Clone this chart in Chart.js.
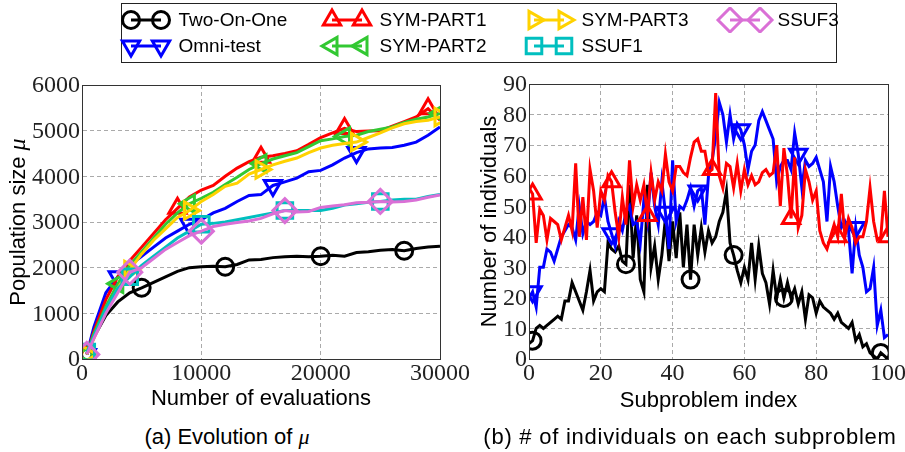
<!DOCTYPE html>
<html>
<head>
<meta charset="utf-8">
<script src="https://cdn.jsdelivr.net/npm/chart.js@4.4.1/dist/chart.umd.min.js"></script>
<style>
  html, body { margin: 0; padding: 0; background: #fff; }
  body { width: 905px; height: 452px; position: relative; overflow: hidden; font-family: "Liberation Sans", Arial, sans-serif; }
  #leftChart { position: absolute; left: 0; top: 70px; }
  #rightChart { position: absolute; left: 460px; top: 70px; }
  #legend { position: absolute; left: 121px; top: 3px; width: 714px; height: 58px; border: 1.5px solid #222; }
  .lg-item { position: absolute; height: 26px; }
  .lg-item canvas { position: absolute; left: 0; top: 0; }
  .lg-item span { position: absolute; left: 64px; top: 0; line-height: 26px; font-size: 19px; color: #000; white-space: nowrap; }
  .caption { position: absolute; top: 424px; font-size: 22px; line-height: 26px; text-align: center; color: #000; white-space: nowrap; }
  .caption i { font-family: "Liberation Serif", serif; }
</style>
</head>
<body>
<div id="legend"></div>
<canvas id="leftChart" width="470" height="345"></canvas>
<canvas id="rightChart" width="445" height="345"></canvas>
<div class="caption" style="left:27px;width:400px">(a) Evolution of <i>μ</i></div>
<div class="caption" style="left:470px;width:440px;letter-spacing:0.75px">(b) # of individuals on each subproblem</div>
<script>
// (a) population size vs. number of evaluations
const evals = [400, 1000, 2000, 3000, 4000, 5000, 6000, 7000, 8000, 9000, 10000, 11000, 12000, 13000, 14000, 15000,
  16000, 17000, 18000, 19000, 20000, 21000, 22000, 23000, 24000, 25000, 26000, 27000, 28000, 29000, 30000]
const popTwoOnOne = [100, 480, 950, 1250, 1450, 1560, 1680, 1800, 1920, 2000, 2020, 2030, 2020, 2070, 2170, 2180,
  2220, 2240, 2250, 2240, 2250, 2270, 2250, 2330, 2350, 2380, 2400, 2370, 2420, 2450, 2470]
const popOmniTest = [100, 700, 1450, 1800, 2050, 2250, 2450, 2650, 2800, 2950, 3050, 3200, 3300, 3450, 3580, 3600,
  3800, 3880, 3960, 4100, 4130, 4250, 4400, 4520, 4600, 4620, 4630, 4680, 4750, 4900, 5080]
const popSymPart1 = [100, 600, 1300, 1800, 2150, 2450, 2750, 3050, 3300, 3550, 3700, 3800, 4000, 4180, 4320, 4420,
  4450, 4500, 4560, 4700, 4850, 4950, 5050, 4980, 4990, 5000, 5100, 5200, 5300, 5480, 5230]
const popSymPart2 = [100, 550, 1150, 1650, 2050, 2350, 2650, 2950, 3200, 3400, 3520, 3650, 3820, 3980, 4150, 4280,
  4380, 4450, 4520, 4650, 4780, 4820, 4870, 4900, 4980, 5030, 5080, 5180, 5250, 5300, 5380]
const popSymPart3 = [100, 450, 1050, 1550, 1950, 2300, 2600, 2850, 3100, 3250, 3450, 3600, 3780, 3850, 4050, 4150,
  4250, 4330, 4400, 4520, 4620, 4680, 4720, 4750, 4850, 4950, 5060, 5150, 5200, 5230, 5300]
const popSsuf1 = [150, 500, 1100, 1550, 1800, 2050, 2250, 2450, 2650, 2800, 2950, 2970, 3000, 3050, 3100, 3150,
  3200, 3250, 3250, 3250, 3250, 3300, 3370, 3400, 3430, 3450, 3480, 3500, 3500, 3560, 3600]
const popSsuf3 = [100, 450, 1000, 1450, 1900, 2000, 2200, 2400, 2550, 2700, 2800, 2900, 2950, 2990, 3020, 3080,
  3180, 3250, 3220, 3230, 3320, 3350, 3380, 3420, 3430, 3450, 3440, 3450, 3480, 3540, 3590]

// (b) individuals on each subproblem (index 0..100)
const subproblems = Array.from({ length: 101 }, (_, i) => i)
const indTwoOnOne = [5, 6, 10, 11, 10, 11, 12, 13, 14, 13, 19, 19, 25, 22, 19, 16, 22, 29, 19, 22,
  23, 22, 38, 36, 35, 37, 32, 31, 57, 33, 47, 26, 22, 57, 30, 37, 26, 34, 46, 32,
  45, 33, 48, 30, 44, 26, 44, 34, 43, 35, 42, 38, 40, 45, 48, 55, 38, 34, 29, 25,
  30, 26, 38, 26, 37, 28, 25, 18, 29, 20, 26, 20, 25, 20, 23, 18, 22, 13, 21, 20,
  15, 19, 17, 16, 15, 13, 15, 12, 11, 10, 12, 6, 8, 4, 5, 2, 1, 0, 2, 1, 0]
const indOmniTest = [20, 22, 17, 30, 30, 36, 35, 32, 36, 40, 42, 44, 43, 39, 50, 41, 45, 44, 45, 48,
  47, 53, 45, 41, 37, 45, 42, 48, 50, 44, 45, 38, 52, 45, 61, 50, 44, 58, 48, 36,
  65, 45, 50, 49, 52, 56, 50, 55, 56, 44, 60, 65, 73, 84, 80, 71, 80, 72, 77, 75,
  70, 62, 68, 70, 78, 81, 78, 75, 72, 58, 63, 65, 65, 62, 74, 67, 56, 65, 63, 64,
  66, 62, 58, 45, 63, 58, 50, 43, 45, 42, 28, 43, 34, 30, 22, 23, 30, 11, 16, 7, 8]
const indSymPart1 = [56, 54, 38, 49, 47, 39, 46, 45, 44, 39, 43, 47, 42, 64, 40, 53, 39, 62, 55, 43,
  55, 52, 60, 58, 48, 40, 53, 44, 65, 50, 57, 52, 57, 47, 61, 52, 58, 55, 67, 58,
  55, 63, 63, 61, 60, 66, 71, 72, 68, 68, 61, 62, 87, 60, 56, 64, 63, 56, 64, 55,
  62, 57, 60, 57, 58, 61, 62, 60, 61, 70, 50, 69, 60, 46, 66, 43, 47, 62, 58, 52,
  55, 42, 38, 36, 40, 44, 40, 54, 40, 46, 43, 38, 40, 40, 45, 56, 45, 39, 40, 55, 40]

const leftXTicks = [0, 10000, 20000, 30000]
const leftYTicks = [0, 1000, 2000, 3000, 4000, 5000, 6000]
const rightXTicks = [0, 20, 40, 60, 80, 100]
const rightYTicks = [0, 10, 20, 30, 40, 50, 60, 70, 80, 90]

// line / marker styles for every algorithm
const styles = {
  "Two-On-One": { color: "#000000", shape: "circle", rot: 0, r: 8.5 },
  "Omni-test": { color: "#0000ff", shape: "triangle", rot: 180, r: 10 },
  "SYM-PART1": { color: "#ff0000", shape: "triangle", rot: 0, r: 10 },
  "SYM-PART2": { color: "#32c832", shape: "triangle", rot: 270, r: 10 },
  "SYM-PART3": { color: "#ffd200", shape: "triangle", rot: 90, r: 10 },
  "SSUF1": { color: "#00bfbf", shape: "rect", rot: 0, r: 11 },
  "SSUF3": { color: "#da70d6", shape: "rectRot", rot: 0, r: 12 },
}

const leftSeries = [
  { name: "Two-On-One", values: popTwoOnOne, marks: [0, 5, 12, 20, 27] },
  { name: "Omni-test", values: popOmniTest, marks: [0, 3, 9, 16, 23] },
  { name: "SYM-PART1", values: popSymPart1, marks: [0, 8, 15, 22, 29] },
  { name: "SYM-PART2", values: popSymPart2, marks: [0, 3, 9, 15, 22, 30] },
  { name: "SYM-PART3", values: popSymPart3, marks: [0, 4, 9, 15, 23, 30] },
  { name: "SSUF1", values: popSsuf1, marks: [0, 4, 10, 17, 25] },
  { name: "SSUF3", values: popSsuf3, marks: [0, 4, 10, 17, 25] },
]
const rightSeries = [
  { name: "Two-On-One", values: indTwoOnOne, marks: [1, 27, 45, 57, 71, 98] },
  { name: "Omni-test", values: indOmniTest, marks: [1, 23, 38, 47, 59, 75, 91] },
  { name: "SYM-PART1", values: indSymPart1, marks: [1, 23, 33, 51, 73, 86, 100] },
]

const TICK_FONT = "24px 'Liberation Serif', 'Times New Roman', serif"
const SANS_FONT = "22px 'Liberation Sans', Arial, sans-serif"
const MU_FONT = "italic 24px 'Liberation Serif', 'Times New Roman', serif"

// frame + serif tick labels + y title (drawn on the chart's own scales)
const decorPlugin = {
  id: "decor",
  afterDatasetsDraw(chart) {
    const { ctx, chartArea: a } = chart
    ctx.save()
    ctx.strokeStyle = "#333"
    ctx.lineWidth = 1
    ctx.strokeRect(Math.round(a.left) + 0.5, Math.round(a.top) + 0.5, Math.round(a.right - a.left), Math.round(a.bottom - a.top))
    ctx.restore()
  },
  afterDraw(chart, args, o) {
    const { ctx, chartArea: a, scales } = chart
    ctx.save()
    ctx.fillStyle = "#222"
    ctx.font = TICK_FONT
    ctx.textAlign = "center"
    ctx.textBaseline = "top"
    o.xTicks.forEach((v) => ctx.fillText(String(v), scales.x.getPixelForValue(v), a.bottom + 3))
    ctx.textAlign = "right"
    ctx.textBaseline = "middle"
    o.yTicks.forEach((v) => ctx.fillText(String(v), a.left - 2, scales.y.getPixelForValue(v) + 1))

    // rotated y title: sans text + optional italic serif mu
    const cy = (a.top + a.bottom) / 2
    ctx.translate(o.yTitleX, cy)
    ctx.rotate(-Math.PI / 2)
    ctx.fillStyle = "#000"
    ctx.textBaseline = "middle"
    ctx.textAlign = "left"
    ctx.font = SANS_FONT
    const w1 = ctx.measureText(o.yTitle).width
    ctx.font = MU_FONT
    const w2 = o.yTitleMu ? ctx.measureText(" μ").width : 0
    let x0 = -(w1 + w2) / 2
    ctx.font = SANS_FONT
    ctx.fillText(o.yTitle, x0, 0)
    if (o.yTitleMu) {
      ctx.font = MU_FONT
      ctx.fillText(" μ", x0 + w1, 0)
    }
    ctx.restore()
  },
}

function buildChart(id, xs, series, opt) {
  const datasets = series.map((s, i) => {
    const st = styles[s.name]
    return {
      label: s.name,
      data: s.values.map((v, k) => ({ x: xs[k], y: v })),
      borderColor: st.color,
      borderWidth: 3,
      tension: 0,
      fill: false,
      clip: 0,
      order: series.length - i,
      pointStyle: st.shape,
      pointRotation: st.rot,
      pointRadius: s.values.map((v, k) => (s.marks.includes(k) ? st.r : 0)),
      pointBorderColor: st.color,
      pointBackgroundColor: "rgba(0,0,0,0)",
      pointBorderWidth: 3,
    }
  })

  const axis = (ticksArr, min, max, isX) => ({
    type: "linear",
    min: min,
    max: max,
    afterBuildTicks: (sc) => { sc.ticks = ticksArr.map((v) => ({ value: v })) },
    afterFit: (sc) => {
      if (isX) { sc.height = 56; sc.paddingLeft = 0; sc.paddingRight = 0 }
      else { sc.width = opt.yWidth; sc.paddingTop = 0; sc.paddingBottom = 0 }
    },
    ticks: { display: false },
    grid: { color: "#aaaaaa", lineWidth: 1, drawTicks: false },
    border: { color: "#333", width: 1, dash: [4, 3] },
    title: isX
      ? { display: true, text: opt.xTitle, font: { family: "'Liberation Sans', Arial, sans-serif", size: 22 }, color: "#000", padding: { top: 0, bottom: opt.xTitlePad } }
      : { display: false },
  })

  return new Chart(document.getElementById(id), {
    type: "line",
    data: { datasets },
    options: {
      responsive: false,
      animation: false,
      events: [],
      layout: { padding: { left: 0, top: 14, right: opt.rightPad, bottom: 0 } },
      plugins: {
        legend: { display: false },
        tooltip: { enabled: false },
        decor: { xTicks: opt.xTicks, yTicks: opt.yTicks, yTitle: opt.yTitle, yTitleMu: opt.yTitleMu, yTitleX: opt.yTitleX },
      },
      scales: {
        x: axis(opt.xTicks, opt.xMin, opt.xMax, true),
        y: axis(opt.yTicks, opt.yMin, opt.yMax, false),
      },
    },
    plugins: [decorPlugin],
  })
}

buildChart("leftChart", evals, leftSeries, {
  xTicks: leftXTicks, yTicks: leftYTicks, xMin: 0, xMax: 30000, yMin: 0, yMax: 6000,
  xTitle: "Number of evaluations", yTitle: "Population size", yTitleMu: true, yTitleX: 19,
  yWidth: 82, rightPad: 30, xTitlePad: 3,
})

buildChart("rightChart", subproblems, rightSeries, {
  xTicks: rightXTicks, yTicks: rightYTicks, xMin: 0, xMax: 100, yMin: 0, yMax: 90,
  xTitle: "Subproblem index", yTitle: "Number of individuals", yTitleMu: false, yTitleX: 30,
  yWidth: 69, rightPad: 17, xTitlePad: 1,
})

// Legend (two markers joined by a line, like matplotlib numpoints=2)
function drawMarker(ctx, st, x, y) {
  const r = st.r
  ctx.beginPath()
  if (st.shape === "circle") {
    ctx.arc(x, y, r, 0, Math.PI * 2)
  } else if (st.shape === "triangle") {
    let rad = (st.rot * Math.PI) / 180
    for (let k = 0; k < 3; k++) {
      const px = x + Math.sin(rad) * r
      const py = y - Math.cos(rad) * r
      if (k === 0) ctx.moveTo(px, py)
      else ctx.lineTo(px, py)
      rad += (2 * Math.PI) / 3
    }
    ctx.closePath()
  } else if (st.shape === "rect") {
    const s = Math.SQRT1_2 * r
    ctx.rect(x - s, y - s, 2 * s, 2 * s)
  } else {
    ctx.moveTo(x - r, y)
    ctx.lineTo(x, y - r)
    ctx.lineTo(x + r, y)
    ctx.lineTo(x, y + r)
    ctx.closePath()
  }
  ctx.stroke()
}

const legendItems = [
  { name: "Two-On-One", x: 179, row: 0 },
  { name: "Omni-test", x: 179, row: 1 },
  { name: "SYM-PART1", x: 380, row: 0 },
  { name: "SYM-PART2", x: 380, row: 1 },
  { name: "SYM-PART3", x: 582, row: 0 },
  { name: "SSUF1", x: 582, row: 1 },
  { name: "SSUF3", x: 778, row: 0 },
]
const legendEl = document.getElementById("legend")
legendItems.forEach((it) => {
  const st = styles[it.name]
  const div = document.createElement("div")
  div.className = "lg-item"
  div.style.left = it.x - 64 - 122.5 + "px"
  div.style.top = (it.row === 0 ? 7 : 33) - 4.5 + "px"
  const cv = document.createElement("canvas")
  cv.width = 64
  cv.height = 26
  const ctx = cv.getContext("2d")
  ctx.strokeStyle = st.color
  ctx.lineWidth = 3
  ctx.beginPath()
  ctx.moveTo(16, 13)
  ctx.lineTo(46, 13)
  ctx.stroke()
  drawMarker(ctx, st, 16, 13)
  drawMarker(ctx, st, 46, 13)
  const span = document.createElement("span")
  span.textContent = it.name
  div.appendChild(cv)
  div.appendChild(span)
  legendEl.appendChild(div)
})
</script>
</body>
</html>
